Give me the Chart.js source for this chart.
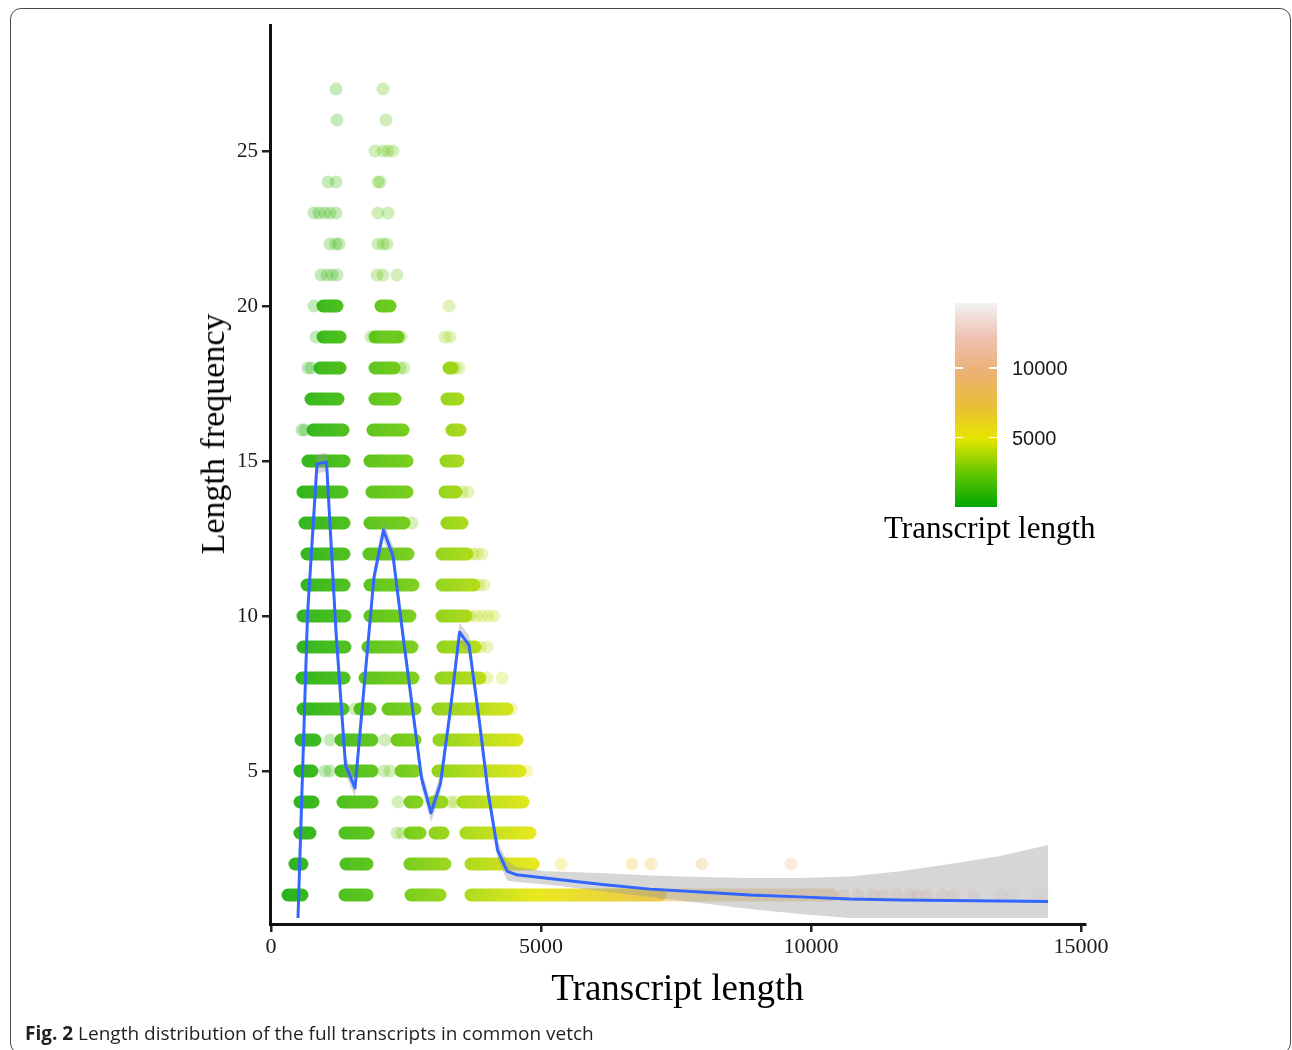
<!DOCTYPE html>
<html>
<head>
<meta charset="utf-8">
<script src="https://cdn.jsdelivr.net/npm/chart.js@4.4.1/dist/chart.umd.min.js"></script>
<style>
  html, body { margin: 0; padding: 0; background: #ffffff; }
  body { width: 1292px; height: 1050px; position: relative; overflow: hidden; }
  #frame { position: absolute; left: 10px; top: 8px; width: 1281px; height: 1046px;
           border: 1.5px solid #4a4a4a; border-radius: 11px; box-sizing: border-box; }
  #c { position: absolute; left: 0; top: 0; }
  #ytitle { position: absolute; left: 213px; top: 434px; transform: translate(-50%, -50%) rotate(-90deg);
            font-family: 'Liberation Serif', 'Times New Roman', serif; font-size: 34px; color: #000;
            white-space: nowrap; line-height: 1; }
  #bar { position: absolute; left: 955px; top: 303px; width: 42px; height: 204px; }
  .ltick { position: absolute; height: 1.5px; width: 8px; background: #ffffff; }
  .llab { position: absolute; font-family: 'Liberation Sans', Arial, sans-serif; font-size: 20px; color: #1a1a1a;
          line-height: 20px; white-space: nowrap; }
  #ltitle { position: absolute; left: 884px; top: 510px; font-family: 'Liberation Serif', 'Times New Roman', serif;
            font-size: 31px; color: #000; white-space: nowrap; line-height: 36px; }
  #caption { position: absolute; left: 25px; top: 1020px; font-family: 'Open Sans', 'Noto Sans', sans-serif;
             font-size: 19px; color: #231f20; white-space: nowrap; line-height: 26px; }
</style>
</head>
<body>
<div id="frame"></div>
<canvas id="c" width="1292" height="1050"></canvas>
<div id="ytitle">Length frequency</div>
<div id="bar"></div>
<div id="ltitle">Transcript length</div>
<div id="caption"><b>Fig. 2</b> Length distribution of the full transcripts in common vetch</div>
<script>
// ---------------- data ----------------
// axis tick labels
const xTicks = [0, 5000, 10000, 15000];
const yTicks = [5, 10, 15, 20, 25];
const legendTicks = [5000, 10000];
// colour scale (transcript length) limits and terrain palette
const colourMin = 0;
const colourMax = 14700;
const terrainPalette = ['#00A600', '#63C600', '#E6E600', '#E9BD3A', '#ECB176', '#EFC2B3', '#F2F2F2'];

// dense runs of overlapping points: frequency, first length, last length
const bandFreq = [
  20, 20,
  19, 19,
  18, 18, 18,
  17, 17, 17,
  16, 16, 16,
  15, 15, 15,
  14, 14, 14,
  13, 13, 13,
  12, 12, 12,
  11, 11, 11,
  10, 10, 10,
  9, 9, 9,
  8, 8, 8,
  7, 7, 7, 7,
  6, 6, 6, 6,
  5, 5, 5, 5,
  4, 4, 4, 4, 4,
  3, 3, 3, 3, 3,
  2, 2, 2, 2,
  1, 1, 1, 1
];
const bandStart = [
  963, 2037,
  963, 1926,
  907, 1926, 3296,
  741, 1926, 3259,
  778, 1889, 3352,
  685, 1833, 3241,
  593, 1870, 3222,
  630, 1833, 3259,
  667, 1815, 3167,
  667, 1833, 3167,
  593, 1833, 3167,
  593, 1796, 3185,
  574, 1741, 3148,
  593, 1648, 2167, 3093,
  556, 1296, 2333, 3111,
  537, 1296, 2408, 3093,
  537, 1333, 2574, 3000, 3556,
  537, 1370, 2574, 3037, 3611,
  444, 1389, 2574, 3704,
  315, 1370, 2593, 3704
];
const bandEnd = [
  1222, 2204,
  1278, 2352,
  1278, 2278, 3352,
  1241, 2296, 3463,
  1333, 2445, 3500,
  1352, 2519, 3463,
  1315, 2519, 3426,
  1352, 2463, 3537,
  1352, 2537, 3630,
  1352, 2630, 3759,
  1370, 2574, 3611,
  1370, 2611, 3778,
  1352, 2630, 3870,
  1333, 1833, 2667, 4371,
  815, 1870, 2667, 4556,
  759, 1870, 2667, 4611,
  778, 1870, 2704, 3167, 4667,
  722, 1796, 2759, 3185, 4797,
  574, 1778, 3222, 4852,
  574, 1778, 3130, 7200
];
// looser run of points in the long tail
const looseFreq = [1];
const looseStart = [7260];
const looseEnd = [10390];

// isolated points: frequency and transcript length
const dotFreq = [
  27, 27, 26, 26,
  25, 25, 25, 25,
  24, 24, 24, 24,
  23, 23, 23, 23, 23, 23, 23,
  22, 22, 22, 22, 22, 22,
  21, 21, 21, 21, 21, 21, 21,
  20, 20,
  19, 19, 19, 19, 19,
  18, 18, 18, 18, 18, 18,
  16, 16,
  14, 14,
  13,
  12, 12, 12,
  11, 11,
  10, 10, 10, 10, 10,
  9, 9,
  8, 8,
  7, 7,
  6, 6,
  5, 5, 5, 5, 5,
  4, 4, 4,
  3, 3,
  2, 2, 2, 2, 2,
  1, 1, 1, 1, 1, 1, 1, 1, 1, 1, 1, 1, 1, 1, 1
];
const dotLength = [
  1204, 2074, 1222, 2130,
  1926, 2074, 2167, 2259,
  1056, 1204, 1982, 2019,
  796, 889, 1000, 1093, 1204, 1982, 2167,
  1093, 1204, 1259, 1982, 2074, 2148,
  926, 1037, 1130, 1222, 1963, 2074, 2333,
  796, 3296,
  833, 1852, 2408, 3222, 3315,
  685, 741, 2389, 2463, 3408, 3482,
  574, 630,
  3537, 3648,
  2611,
  3741, 3815, 3908,
  3852, 3945,
  3685, 3796, 3908, 4019, 4130,
  3870, 4000,
  4000, 4278,
  1556, 4450,
  1093, 2111,
  1000, 1093, 2093, 2204, 4741,
  2352, 3333, 3408,
  2333, 2426,
  5371, 6686, 7038, 7982, 9630,
  10593, 10871, 11149, 11334, 11593, 11834, 11964, 12149, 12427, 12631, 13001, 13538, 13723, 14186, 14334
];

// smoothed trend (loess) with its confidence band
const smoothLength = [500, 676, 852, 1028, 1204, 1380, 1556, 1732, 1908, 2084, 2260, 2436, 2612, 2788,
  2964, 3140, 3316, 3492, 3668, 3844, 4020, 4196, 4372, 4548, 5074, 6093, 7019, 7945, 8871, 9797,
  10723, 11649, 12575, 13501, 14390];
const smoothFreq = [0.26, 10.03, 14.90, 14.97, 9.48, 5.19, 4.45, 7.87, 11.26, 12.77, 11.94, 9.48, 7.13, 4.77,
  3.65, 4.61, 6.90, 9.48, 9.06, 6.81, 4.32, 2.45, 1.77, 1.65, 1.55, 1.35, 1.19, 1.10, 1.00, 0.94,
  0.87, 0.84, 0.82, 0.81, 0.79];
const smoothUpper = [0.56, 10.33, 15.20, 15.27, 9.78, 5.49, 4.75, 8.17, 11.56, 13.07, 12.24, 9.78, 7.43, 5.07,
  3.95, 4.91, 7.20, 9.78, 9.36, 7.11, 4.62, 2.75, 2.07, 1.90, 1.77, 1.71, 1.63, 1.58, 1.55, 1.55,
  1.60, 1.77, 2.00, 2.26, 2.61];
const smoothLower = [0.26, 9.73, 14.60, 14.67, 9.18, 4.89, 4.15, 7.57, 10.96, 12.47, 11.64, 9.18, 6.83, 4.47,
  3.35, 4.31, 6.60, 9.18, 8.76, 6.51, 4.02, 2.15, 1.47, 1.42, 1.35, 1.13, 0.94, 0.74, 0.55, 0.39,
  0.26, 0.26, 0.26, 0.26, 0.26];

// ---------------- helpers ----------------
function hexToRgb(h) {
  return [parseInt(h.slice(1, 3), 16), parseInt(h.slice(3, 5), 16), parseInt(h.slice(5, 7), 16)];
}
const paletteRgb = terrainPalette.map(hexToRgb);
function colourAt(v, a) {
  let t = (v - colourMin) / (colourMax - colourMin);
  t = Math.max(0, Math.min(1, t));
  const n = paletteRgb.length - 1;
  const i = Math.min(n - 1, Math.floor(t * n));
  const f = t * n - i;
  const c0 = paletteRgb[i], c1 = paletteRgb[i + 1];
  const r = Math.round(c0[0] + (c1[0] - c0[0]) * f);
  const g = Math.round(c0[1] + (c1[1] - c0[1]) * f);
  const b = Math.round(c0[2] + (c1[2] - c0[2]) * f);
  return 'rgba(' + r + ',' + g + ',' + b + ',' + a + ')';
}
function gradientFor(alpha) {
  return function (ctx) {
    const chart = ctx.chart;
    const xs = chart.scales && chart.scales.x;
    if (!chart.chartArea || !xs) return colourAt(1000, alpha);
    const x0 = xs.getPixelForValue(colourMin), x1 = xs.getPixelForValue(colourMax);
    const g = chart.ctx.createLinearGradient(x0, 0, x1, 0);
    const n = paletteRgb.length - 1;
    paletteRgb.forEach(function (c, i) {
      g.addColorStop(i / n, 'rgba(' + c[0] + ',' + c[1] + ',' + c[2] + ',' + alpha + ')');
    });
    return g;
  };
}
function runs(freq, start, end) {
  const out = [];
  for (let i = 0; i < freq.length; i++) {
    out.push({ x: start[i], y: freq[i] });
    out.push({ x: end[i], y: freq[i] });
    out.push({ x: end[i], y: null });
  }
  return out;
}

const dotData = dotFreq.map(function (f, i) { return { x: dotLength[i], y: f }; });
const smoothData = smoothLength.map(function (x, i) { return { x: x, y: smoothFreq[i] }; });
const upperData = smoothLength.map(function (x, i) { return { x: x, y: smoothUpper[i] }; });
const lowerData = smoothLength.map(function (x, i) { return { x: x, y: smoothLower[i] }; });

// ---------------- chart ----------------
const serif = "'Liberation Serif', 'Times New Roman', serif";
new Chart(document.getElementById('c'), {
  type: 'line',
  data: {
    datasets: [
      { type: 'line', label: 'loess', data: smoothData, borderColor: '#3366FF', borderWidth: 3,
        pointRadius: 0, tension: 0, fill: false, order: 0, borderJoinStyle: 'round' },
      { type: 'line', label: 'ci upper', data: upperData, borderWidth: 0, borderColor: 'rgba(0,0,0,0)',
        pointRadius: 0, tension: 0, fill: 2, backgroundColor: 'rgba(153,153,153,0.4)', order: 1 },
      { type: 'line', label: 'ci lower', data: lowerData, borderWidth: 0, borderColor: 'rgba(0,0,0,0)',
        pointRadius: 0, tension: 0, fill: false, order: 1 },
      { type: 'scatter', label: 'points', data: dotData, pointRadius: 6.5, pointBorderWidth: 0,
        pointBackgroundColor: function (ctx) { return ctx.raw ? colourAt(ctx.raw.x, 0.27) : 'rgba(0,0,0,0)'; },
        showLine: false, order: 2 },
      { type: 'line', label: 'loose runs', data: runs(looseFreq, looseStart, looseEnd), borderWidth: 13,
        borderCapStyle: 'round', borderColor: gradientFor(0.45), pointRadius: 0, spanGaps: false,
        tension: 0, fill: false, order: 3 },
      { type: 'line', label: 'dense runs', data: runs(bandFreq, bandStart, bandEnd), borderWidth: 13,
        borderCapStyle: 'round', borderColor: gradientFor(0.88), pointRadius: 0, spanGaps: false,
        tension: 0, fill: false, order: 3 }
    ]
  },
  options: {
    responsive: false,
    devicePixelRatio: 1,
    animation: false,
    events: [],
    layout: { padding: { left: 0, right: 207, top: 25, bottom: 0 } },
    plugins: { legend: { display: false }, tooltip: { enabled: false }, title: { display: false } },
    scales: {
      x: {
        type: 'linear', min: -18.5, max: 15075,
        afterBuildTicks: function (s) { s.ticks = xTicks.map(function (v) { return { value: v }; }); },
        afterFit: function (s) { s.height = 126; },
        ticks: { callback: function (v) { return String(v); }, font: { family: serif, size: 22 },
                 color: '#1a1a1a', padding: 2, maxRotation: 0, autoSkip: false },
        grid: { display: true, drawOnChartArea: false, drawTicks: true, tickLength: 8, tickWidth: 2.5,
                tickColor: '#222', lineWidth: 2.5 },
        border: { display: true, color: '#111', width: 3 },
        title: { display: true, text: 'Transcript length', color: '#000',
                 font: { family: serif, size: 37, weight: 'normal' }, padding: { top: 0, bottom: 38 } }
      },
      y: {
        type: 'linear', min: 0.065, max: 29.065,
        afterBuildTicks: function (s) { s.ticks = yTicks.map(function (v) { return { value: v }; }); },
        afterFit: function (s) { s.width = 270; },
        ticks: { callback: function (v) { return String(v); }, font: { family: serif, size: 21 },
                 color: '#1a1a1a', padding: 4, autoSkip: false },
        grid: { display: true, drawOnChartArea: false, drawTicks: true, tickLength: 8, tickWidth: 2.5,
                tickColor: '#222', lineWidth: 2.5 },
        border: { display: true, color: '#111', width: 3 }
      }
    }
  }
});

// ---------------- colour bar legend ----------------
(function () {
  const bar = document.getElementById('bar');
  const n = terrainPalette.length - 1;
  bar.style.background = 'linear-gradient(to top, ' + terrainPalette.map(function (c, i) {
    return c + ' ' + (100 * i / n).toFixed(2) + '%';
  }).join(', ') + ')';
  const barTop = 303, barH = 204, barLeft = 955, barW = 42;
  legendTicks.forEach(function (v) {
    const y = barTop + barH - (v - colourMin) / (colourMax - colourMin) * barH;
    [barLeft, barLeft + barW - 8].forEach(function (x) {
      const t = document.createElement('div');
      t.className = 'ltick';
      t.style.left = x + 'px';
      t.style.top = (y - 0.75) + 'px';
      document.body.appendChild(t);
    });
    const l = document.createElement('div');
    l.className = 'llab';
    l.textContent = String(v);
    l.style.left = '1012px';
    l.style.top = (y - 10) + 'px';
    document.body.appendChild(l);
  });
})();
</script>
</body>
</html>
